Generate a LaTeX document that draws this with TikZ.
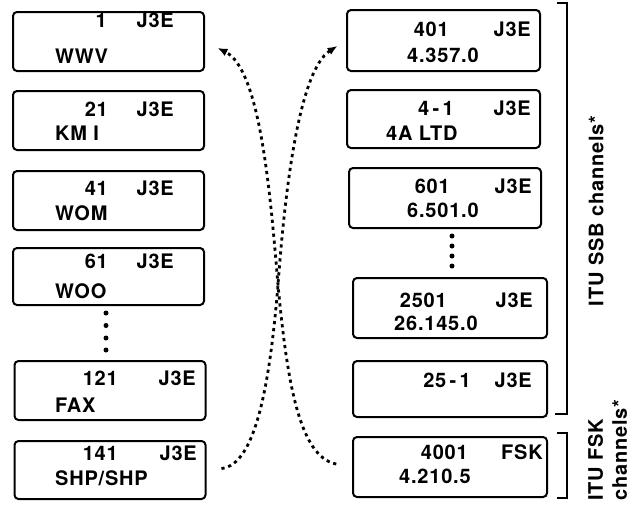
\documentclass[tikz,border=0pt]{standalone}
\usepackage{fontspec}
\setmainfont{TeX Gyre Heros}[LetterSpace=4]
\usepackage{tikz}
\usetikzlibrary{arrows.meta, calc}

\begin{document}
\begin{tikzpicture}[x=1pt, y=-1pt,
		chan/.style={draw, line width=2pt, rounded corners=4pt, minimum width=191pt, minimum height=59pt, inner sep=0pt},
		lbl/.style={inner sep=0pt, font=\fontsize{20}{24}\selectfont\bfseries},
		link/.style={line width=2.8pt, dash pattern=on 3.2pt off 3.8pt, -{Latex[length=10pt,width=8pt]}},
		brk/.style={line width=1.8pt}]
			\useasboundingbox (0,0) rectangle (636,509);
			
			% left column
			\node[chan] (b1) at (108.5,41.5) {};
			\node[lbl, anchor=base east] (b1n) at (107,27) {1};
			\node[lbl, anchor=base east] (b1m) at (174,27) {J3E};
			\node[lbl, anchor=base west] (b1s) at (55,63) {WWV};
			
			\node[chan] (b21) at (108.5,120.5) {};
			\node[lbl, anchor=base east] (b21n) at (108,116) {21};
			\node[lbl, anchor=base east] (b21m) at (174,116) {J3E};
			\node[lbl, anchor=base west] (b21s) at (55,140) {KM I};
			
			\node[chan] (b41) at (108.5,200.5) {};
			\node[lbl, anchor=base east] (b41n) at (108,195) {41};
			\node[lbl, anchor=base east] (b41m) at (174,195) {J3E};
			\node[lbl, anchor=base west] (b41s) at (55,220) {WOM};
			
			\node[chan, minimum height=57pt] (b61) at (108.5,276.5) {};
			\node[lbl, anchor=base east] (b61n) at (108,268) {61};
			\node[lbl, anchor=base east] (b61m) at (174,268) {J3E};
			\node[lbl, anchor=base west] (b61s) at (55,298) {WOO};
			
			\foreach \y in {313,325.5,338,350}
				\fill (106,\y) circle (2.5pt);
			
			\node[chan] (b121) at (110,390.5) {};
			\node[lbl, anchor=base east] (b121n) at (118,385) {121};
			\node[lbl, anchor=base east] (b121m) at (196,385) {J3E};
			\node[lbl, anchor=base west] (b121s) at (55,412) {FAX};
			
			\node[chan, minimum height=58pt] (b141) at (110,470) {};
			\node[lbl, anchor=base east] (b141n) at (118,460) {141};
			\node[lbl, anchor=base east] (b141m) at (197,460) {J3E};
			\node[lbl, anchor=base west] (b141s) at (55,485) {SHP/SHP};
			
			% right column
			\node[chan, minimum width=193pt, minimum height=61pt] (b401) at (443.5,40.5) {};
			\node[lbl, anchor=base east] (b401n) at (449,36) {401};
			\node[lbl, anchor=base east] (b401m) at (531,36) {J3E};
			\node[lbl, anchor=base west] (b401s) at (407,62) {4.357.0};
			
			\node[chan, minimum width=193pt, minimum height=58pt] (b4x) at (443.5,119) {};
			\node[lbl, anchor=base east] (b4xn) at (454,115) {4\,-\,1};
			\node[lbl, anchor=base east] (b4xm) at (531,115) {J3E};
			\node[lbl, anchor=base west] (b4xs) at (386,140) {4A LTD};
			
			\node[chan, minimum width=192pt, minimum height=60pt] (b601) at (445,198) {};
			\node[lbl, anchor=base east] (b601n) at (450,193) {601};
			\node[lbl, anchor=base east] (b601m) at (532,193) {J3E};
			\node[lbl, anchor=base west] (b601s) at (407,217) {6.501.0};
			
			\foreach \y in {236,246,256,266}
				\fill (452,\y) circle (2.5pt);
			
			\node[chan, minimum width=194pt, minimum height=60pt] (b2501) at (450,308) {};
			\node[lbl, anchor=base east] (b2501n) at (447,307) {2501};
			\node[lbl, anchor=base east] (b2501m) at (533,307) {J3E};
			\node[lbl, anchor=base west] (b2501s) at (394,330) {26.145.0};
			
			\node[chan, minimum width=194pt, minimum height=56pt] (b25x) at (450,389) {};
			\node[lbl, anchor=base east] (b25xn) at (471,387) {25\,-\,1};
			\node[lbl, anchor=base east] (b25xm) at (532,387) {J3E};
			
			\node[chan, minimum width=194pt, minimum height=60pt] (b4001) at (450,467) {};
			\node[lbl, anchor=base east] (b4001n) at (468,459) {4001};
			\node[lbl, anchor=base east] (b4001m) at (543,459) {FSK};
			\node[lbl, anchor=base west] (b4001s) at (399,483) {4.210.5};
			
			% crossing links
			\coordinate (cross) at (278,285);
			\draw[link, shorten <=15pt, shorten >=10pt] (b141.east) .. controls +(50,-5) and +(-8,95) .. (cross) .. controls +(7,-95) and +(-47,30) .. (b401.west);
			\draw[link, shorten <=16pt, shorten >=14pt] (b4001.west) .. controls +(-53,-10) and +(9,95) .. (cross) .. controls +(-8,-95) and +(55,28) .. (b1.east);
			
			% brackets
			\draw[brk] (557,3) -- (567,3) -- (567,414) -- (555,414);
			\draw[brk] (557,433) -- (567,433) -- (567,498) -- (557,498);
			\node[lbl, rotate=90] (ssb) at (596,211) {ITU SSB channels*};
			\node[lbl, rotate=90, anchor=west, align=left] (fsk) at (607.5,501) {ITU FSK\\channels*};
\end{tikzpicture}
\end{document}
